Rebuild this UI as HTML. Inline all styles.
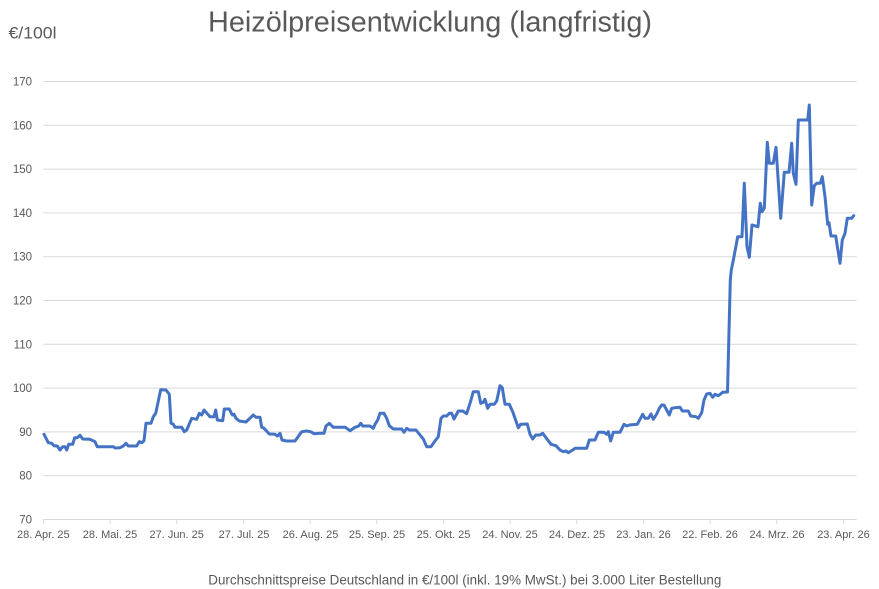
<!DOCTYPE html>
<html>
<head>
<meta charset="utf-8">
<style>
  html,body{margin:0;padding:0;background:#fff;}
  svg{display:block;}
  text{font-family:"Liberation Sans",sans-serif;fill:#595959;}
</style>
</head>
<body>
<svg width="879" height="589" viewBox="0 0 879 589" xmlns="http://www.w3.org/2000/svg">
  <rect width="879" height="589" fill="#fff"/>
  <!-- title -->
  <text x="208" y="31.5" font-size="29" textLength="444" lengthAdjust="spacingAndGlyphs">Heizölpreisentwicklung (langfristig)</text>
  <text x="8.5" y="38.3" font-size="16.5" textLength="48" lengthAdjust="spacingAndGlyphs">€/100l</text>

  <!-- gridlines -->
  <g stroke="#d9d9d9" stroke-width="1">
    <line x1="43.3" y1="81.5" x2="856.7" y2="81.5"/>
    <line x1="43.3" y1="125.3" x2="856.7" y2="125.3"/>
    <line x1="43.3" y1="169.1" x2="856.7" y2="169.1"/>
    <line x1="43.3" y1="212.9" x2="856.7" y2="212.9"/>
    <line x1="43.3" y1="256.7" x2="856.7" y2="256.7"/>
    <line x1="43.3" y1="300.5" x2="856.7" y2="300.5"/>
    <line x1="43.3" y1="344.3" x2="856.7" y2="344.3"/>
    <line x1="43.3" y1="388.1" x2="856.7" y2="388.1"/>
    <line x1="43.3" y1="431.9" x2="856.7" y2="431.9"/>
    <line x1="43.3" y1="475.7" x2="856.7" y2="475.7"/>
    <line x1="43.3" y1="519.5" x2="856.7" y2="519.5"/>
    <!-- ticks -->
    <line x1="43.3" y1="519.5" x2="43.3" y2="524"/>
    <line x1="110" y1="519.5" x2="110" y2="524"/>
    <line x1="176.7" y1="519.5" x2="176.7" y2="524"/>
    <line x1="243.3" y1="519.5" x2="243.3" y2="524"/>
    <line x1="310" y1="519.5" x2="310" y2="524"/>
    <line x1="376.7" y1="519.5" x2="376.7" y2="524"/>
    <line x1="443.3" y1="519.5" x2="443.3" y2="524"/>
    <line x1="510" y1="519.5" x2="510" y2="524"/>
    <line x1="576.7" y1="519.5" x2="576.7" y2="524"/>
    <line x1="643.3" y1="519.5" x2="643.3" y2="524"/>
    <line x1="710" y1="519.5" x2="710" y2="524"/>
    <line x1="776.7" y1="519.5" x2="776.7" y2="524"/>
    <line x1="843.3" y1="519.5" x2="843.3" y2="524"/>
  </g>

  <!-- y labels -->
  <g font-size="11.5" text-anchor="end">
    <text x="32" y="85.5">170</text>
    <text x="32" y="129.3">160</text>
    <text x="32" y="173.1">150</text>
    <text x="32" y="216.9">140</text>
    <text x="32" y="260.7">130</text>
    <text x="32" y="304.5">120</text>
    <text x="32" y="348.3">110</text>
    <text x="32" y="392.1">100</text>
    <text x="32" y="435.9">90</text>
    <text x="32" y="479.7">80</text>
    <text x="32" y="523.5">70</text>
  </g>

  <!-- x labels -->
  <g font-size="11" text-anchor="middle">
    <text x="43.3" y="538">28. Apr. 25</text>
    <text x="110" y="538">28. Mai. 25</text>
    <text x="176.7" y="538">27. Jun. 25</text>
    <text x="244" y="538">27. Jul. 25</text>
    <text x="310.5" y="538">26. Aug. 25</text>
    <text x="377" y="538">25. Sep. 25</text>
    <text x="443.5" y="538">25. Okt. 25</text>
    <text x="510" y="538">24. Nov. 25</text>
    <text x="577" y="538">24. Dez. 25</text>
    <text x="643.5" y="538">23. Jan. 26</text>
    <text x="710" y="538">22. Feb. 26</text>
    <text x="777" y="538">24. Mrz. 26</text>
    <text x="843.5" y="538">23. Apr. 26</text>
  </g>

  <!-- footer -->
  <text x="208.3" y="584.3" font-size="13.5" textLength="513" lengthAdjust="spacingAndGlyphs">Durchschnittspreise Deutschland in €/100l (inkl. 19% MwSt.) bei 3.000 Liter Bestellung</text>

  <!-- series -->
  <polyline fill="none" stroke="#4472C4" stroke-width="3" stroke-linejoin="round" stroke-linecap="round" points="
44,434.3 48.3,442.7 51.7,443.3 54,445.7 57.3,446 60,450 62.7,446.7 65,446.7 66.7,450 68.7,444.3 72.7,444.3 74.7,437.7 77.3,437.7 80,435.3 82.7,439 90,439.3 95,441.7 97.3,446.7 113.3,446.7 115.3,448 120,447.7 123.3,446 126,443.3 128.3,446 136.7,446 139.3,441.7 142,442.7 144,440.7 146,423.3 151,423.3 153.3,416.7 155.7,413.3 160.7,389.7 166,390 169.3,394.3 171,423.3 173.3,424.3 175,427.3 181.7,427.3 184.3,431.7 186.7,430 191.7,418.3 196.7,419.3 199.3,413.3 201.7,415 204,410 210,416.7 214,416.7 215.7,410 217.3,420 222.7,420.7 224.3,409 229.3,409 232.3,415 234,414.3 236,418.3 239.3,421 246,422 253.3,415 256,417.3 260,417.3 261.7,427.3 264,428.3 269.3,434 275,434.3 277.3,436 280,433.3 282,440 286.7,441 295,441 301.7,431.7 306.7,431 310.7,431.7 314,433.7 320,433.3 324,433.3 326,426 329.3,423.3 333.3,427.3 345.3,427.3 350,430.7 355,427.3 358.7,426 360.7,423.3 362.7,426 370,426 373.3,428.3 375,424.3 377.7,420 380,413.3 384,413.3 386.7,418.3 389.3,425.7 393.3,429 401.7,429 404,432.3 406.7,428.3 409.3,430 416,430 420,435 423.3,439 426.7,446.7 431,446.7 435,441 438.3,436.7 441,418.3 443.3,416 446.7,416 449.3,413.3 451.7,413.3 454,419 458.3,411 462.7,411 466.7,413.7 470.7,401 473.3,391.7 478.3,391.7 480.7,403.3 483.3,402.3 485,399.3 487.7,408.3 490,404.3 494.3,404.3 496.7,401 500,385.7 502.3,387.7 505,404.3 509.3,404.3 512.7,411.7 515,418.3 518.3,427.7 520.7,424.3 527.3,424 530,434.3 532.7,439 535.7,435 540,435 542.7,433.3 546,437.7 551,444.3 556,445.7 560,450 563.3,451.7 566,451 568.3,452.7 572.7,450 575,448.3 586.7,448.3 589.3,440 595,440 598.3,432.3 604,432.3 606.7,434.3 608.3,431.7 610.7,441 613.3,432.3 620,432.3 624,424.3 626.7,426 629.3,425 637.3,424.3 642.7,414.3 645,418.3 648.3,418.3 651,414 653.3,419.3 656.7,414 659.3,408.3 661.7,405 664,405 666.7,410 669.3,415 671.7,408.3 675,407.7 680,407.3 682.3,411 688.3,411 690.7,416 696,416.7 698.3,418.3 701.7,412.7 704,400 706.7,394 710,393.3 712.7,397.3 715,394.3 718.3,395.7 722.7,392.3 727.5,392 728.7,343.3 730.3,280 731.3,270 733.7,258.3 737.7,236.7 742,236.7 744.3,183.3 747,246.7 749.3,257.3 752,225 758,226.7 760.3,203.3 762,211.7 764.3,208.3 767.3,142.3 769.3,163.3 773.3,163.3 776,147.3 780.7,218.3 784.3,172.3 789,172.3 791.7,143.3 793.3,173.3 796,184.3 798.3,120 807.7,120 809.3,105 811.7,205 814.3,185.7 816.7,183.3 820.3,183.3 822.3,176.7 825,196.7 827.7,224.3 829,222.7 831,236 835.7,236 840,263.3 842.3,240 845,233.3 847.3,218.3 851.7,218.3 853.7,215.7"/>
</svg>
</body>
</html>
